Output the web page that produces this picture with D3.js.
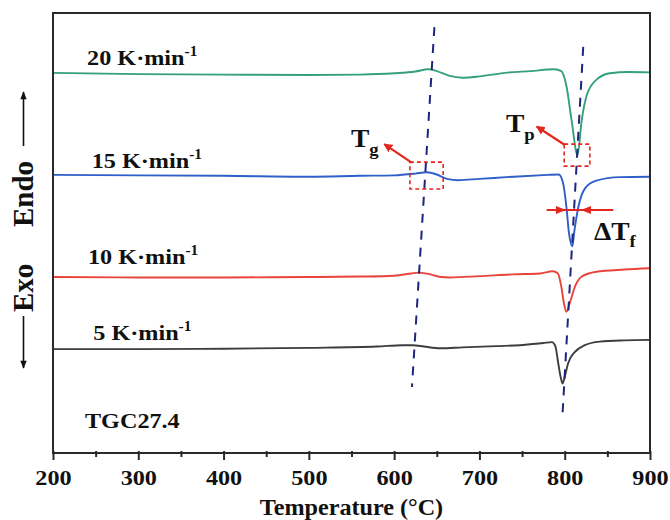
<!DOCTYPE html>
<html>
<head>
<meta charset="utf-8">
<script src="https://cdn.jsdelivr.net/npm/d3@7"></script>
<style>
  html, body { margin: 0; padding: 0; background: #fff; }
  svg { display: block; }
  text { font-family: "Liberation Serif", "Times New Roman", serif; font-weight: bold; fill: #111; }
</style>
</head>
<body>
<svg id="chart" width="670" height="520"></svg>
<script>
// DSC heating curves of TGC27.4 at four heating rates (heat flow, arbitrary units, stacked)
const temp20 = [200,300,400,500,560,600,625,640,650,665,680,700,730,760,788,796,802,808,815,820,826,837,853,875,900];
const heat20 = [86.4,86.1,86.0,85.9,86.0,86.3,86.7,87.2,86.8,85.7,85.3,85.6,86.4,86.8,87.2,86.8,83.4,75.7,67.7,75.7,81.4,84.8,86.3,86.6,86.5];

const temp15 = [200,300,400,500,560,600,625,638,650,662,675,700,740,780,793,798,802,805,809,811,816,824,837,865,900];
const heat15 = [63.2,63.1,63.0,62.8,63.0,63.1,63.5,63.8,63.3,62.3,62.0,62.3,62.8,63.2,63.3,61.4,55.9,50.0,47.0,50.0,55.9,60.2,61.9,62.7,62.8];

const temp10 = [200,300,400,500,560,600,620,628,640,655,665,700,740,771,786,792,796,799,802,806,812,820,837,870,900];
const heat10 = [40.0,39.9,39.9,40.0,40.1,40.3,40.8,41.0,40.7,40.0,39.9,40.2,40.6,40.8,41.3,40.8,37.8,34.1,32.1,34.1,37.8,40.1,41.2,41.7,42.0];

const temp5 = [200,300,400,500,580,610,622,635,654,680,720,747,775,785,789,792.4,795.2,797.5,800,804,812,823.7,841,870,900];
const heat5 = [23.6,23.6,23.7,23.9,24.2,24.5,24.5,24.2,23.8,24.0,24.3,24.5,25.0,25.2,24.3,20.4,17.3,15.8,17.3,20.4,23.0,24.5,25.3,25.6,25.7];

const rateLabels = ["20 K·min", "15 K·min", "10 K·min", "5 K·min"];
const rateColors = ["#35a07a", "#2f5fc8", "#e8443c", "#3d3d3d"];

const xTicks = [200,300,400,500,600,700,800,900];
const xMinorTicks = [250,350,450,550,650,750,850];

// trend lines through the glass transition and crystallisation peaks
const tgTrend = [[647.2, 96.8], [620.9, 15.0]];
const tpTrend = [[821.7, 92.3], [797.5, 9.0]];

const svg = d3.select("#chart");
const margin = {left: 53, top: 13, right: 20, bottom: 67};
const W = 670, H = 520;

const x = d3.scaleLinear().domain([200, 900]).range([margin.left, W - margin.right]);
const y = d3.scaleLinear().domain([0, 100]).range([H - margin.bottom, margin.top]);

const line = d3.line()
  .x(d => x(d[0]))
  .y(d => y(d[1]))
  .curve(d3.curveMonotoneX);

const series = [
  {t: temp20, h: heat20},
  {t: temp15, h: heat15},
  {t: temp10, h: heat10},
  {t: temp5, h: heat5}
];

series.forEach((s, i) => {
  svg.append("path")
    .datum(s.t.map((t, k) => [t, s.h[k]]))
    .attr("d", line)
    .attr("fill", "none")
    .attr("stroke", rateColors[i])
    .attr("stroke-width", 1.9);
});

// dashed trend lines
[tgTrend, tpTrend].forEach(seg => {
  svg.append("line")
    .attr("x1", x(seg[0][0])).attr("y1", y(seg[0][1]))
    .attr("x2", x(seg[1][0])).attr("y2", y(seg[1][1]))
    .attr("stroke", "#1c2580")
    .attr("stroke-width", 2)
    .attr("stroke-dasharray", "9,8");
});

// text helper: slightly widened bold serif with optional sub/superscripts
function addText(px, py, parts, size) {
  const t = svg.append("text")
    .attr("transform", `translate(${px},${py}) scale(1.1,1)`)
    .style("font-size", size + "px");
  parts.forEach(p => {
    const ts = t.append("tspan").text(p.text);
    if (p.size) ts.style("font-size", p.size + "px");
    if (p.dy) ts.attr("dy", p.dy);
  });
  return t;
}

// heating-rate labels
const labelPos = [[240, 88.2], [245.4, 64.7], [241, 43.0], [247.2, 25.7]];
rateLabels.forEach((lab, i) => {
  addText(x(labelPos[i][0]), y(labelPos[i][1]),
    [{text: lab}, {text: "-1", size: 14, dy: -9}], 22);
});

addText(x(237.5), y(5.6), [{text: "TGC27.4"}], 22);

// red dashed boxes marking Tg and Tp
const red = "#e3261f";
const boxes = [[618.5, 657.5, 66.1, 60.0], [799.4, 829.5, 70.2, 65.2]];
boxes.forEach(b => {
  svg.append("rect")
    .attr("x", x(b[0])).attr("y", y(b[2]))
    .attr("width", x(b[1]) - x(b[0])).attr("height", y(b[3]) - y(b[2]))
    .attr("fill", "none")
    .attr("stroke", red)
    .attr("stroke-width", 1.6)
    .attr("stroke-dasharray", "4,3");
});

// arrowhead marker
svg.append("defs").append("marker")
  .attr("id", "redhead")
  .attr("viewBox", "0 0 10 10")
  .attr("refX", 9).attr("refY", 5)
  .attr("markerWidth", 4).attr("markerHeight", 4)
  .attr("markerUnits", "strokeWidth")
  .attr("orient", "auto")
  .append("path").attr("d", "M0,0 L10,5 L0,10 z").attr("fill", red);

const pointers = [[[620.5, 66.0], [588.4, 70.2]], [[800.2, 70.0], [767.1, 74.2]]];
pointers.forEach(p => {
  svg.append("line")
    .attr("x1", x(p[0][0])).attr("y1", y(p[0][1]))
    .attr("x2", x(p[1][0])).attr("y2", y(p[1][1]))
    .attr("stroke", red).attr("stroke-width", 2.2)
    .attr("marker-end", "url(#redhead)");
});

// ΔTf width marker on the 15 K·min-1 peak
const dtY = y(55.2);
svg.append("line")
  .attr("x1", x(778.8)).attr("x2", x(856.9))
  .attr("y1", dtY).attr("y2", dtY)
  .attr("stroke", red).attr("stroke-width", 2);
[[801.4, 1], [819.0, -1]].forEach(([t, dir]) => {
  const tip = x(t);
  svg.append("path")
    .attr("d", `M${tip},${dtY} L${tip - dir * 10},${dtY - 4} L${tip - dir * 10},${dtY + 4} Z`)
    .attr("fill", red);
});

addText(351, 147, [{text: "T"}, {text: "g", size: 17, dy: 8}], 25);
addText(506, 132, [{text: "T"}, {text: "p", size: 17, dy: 8}], 25);
addText(594, 240, [{text: "ΔT"}, {text: "f", size: 17, dy: 7}], 25);

// frame
svg.append("rect")
  .attr("x", margin.left).attr("y", margin.top)
  .attr("width", W - margin.left - margin.right)
  .attr("height", H - margin.top - margin.bottom)
  .attr("fill", "none")
  .attr("stroke", "#2a2a2a")
  .attr("stroke-width", 2);

// x axis
const axisY = H - margin.bottom;
const gMinor = svg.append("g").attr("transform", `translate(0,${axisY})`)
  .call(d3.axisBottom(x).tickValues(xMinorTicks).tickSize(4).tickFormat(""));
gMinor.select(".domain").remove();
gMinor.selectAll("line").attr("stroke", "#2a2a2a").attr("stroke-width", 2).attr("y1", -2);

const gMajor = svg.append("g").attr("transform", `translate(0,${axisY})`)
  .call(d3.axisBottom(x).tickValues(xTicks).tickSize(7).tickFormat(d3.format("d")));
gMajor.select(".domain").remove();
gMajor.selectAll("line").attr("stroke", "#2a2a2a").attr("stroke-width", 2).attr("y1", -2);
gMajor.selectAll("text")
  .attr("y", 32).attr("dy", 0)
  .attr("transform", "scale(1.1,1)")
  .style("font-size", "22px")
  .style("font-family", "'Liberation Serif', serif")
  .style("font-weight", "bold")
  .attr("fill", "#111");

svg.append("text")
  .attr("transform", `translate(${(margin.left + W - margin.right) / 2},515) scale(1.05,1)`)
  .attr("text-anchor", "middle")
  .style("font-size", "23px")
  .text("Temperature (°C)");

// Endo / Exo direction labels
svg.append("text")
  .attr("transform", "translate(33,227) rotate(-90)")
  .style("font-size", "29px")
  .text("Endo");
svg.append("text")
  .attr("transform", "translate(33,312) rotate(-90)")
  .style("font-size", "29px")
  .text("Exo");

svg.append("defs").append("marker")
  .attr("id", "blackhead")
  .attr("viewBox", "0 0 10 10")
  .attr("refX", 9).attr("refY", 5)
  .attr("markerWidth", 6).attr("markerHeight", 5)
  .attr("markerUnits", "strokeWidth")
  .attr("orient", "auto")
  .append("path").attr("d", "M0,1 L10,5 L0,9 z").attr("fill", "#111");

svg.append("line")
  .attr("x1", 23.5).attr("y1", 146).attr("x2", 23.5).attr("y2", 92)
  .attr("stroke", "#111").attr("stroke-width", 1.6)
  .attr("marker-end", "url(#blackhead)");
svg.append("line")
  .attr("x1", 23.5).attr("y1", 316).attr("x2", 23.5).attr("y2", 368)
  .attr("stroke", "#111").attr("stroke-width", 1.6)
  .attr("marker-end", "url(#blackhead)");
</script>
</body>
</html>
